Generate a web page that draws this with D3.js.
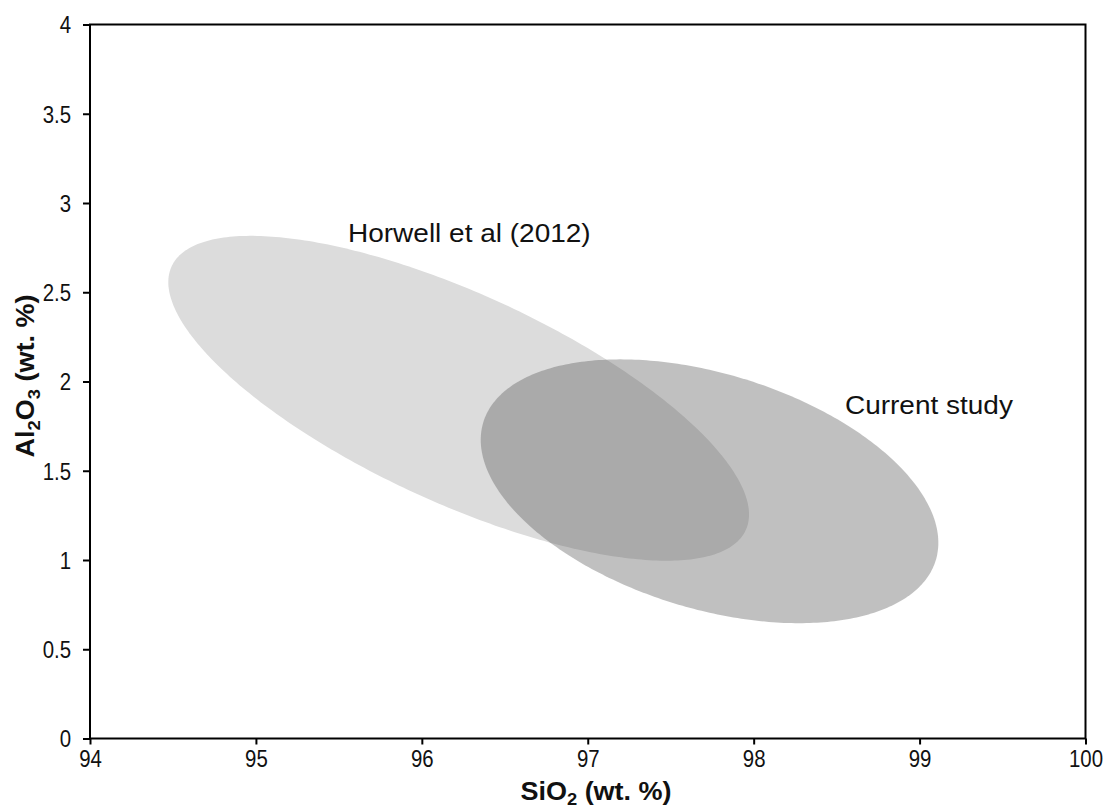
<!DOCTYPE html>
<html>
<head>
<meta charset="utf-8">
<script src="https://cdn.jsdelivr.net/npm/d3@7"></script>
<style>
  html, body { margin: 0; padding: 0; background: #fff; }
  svg { display: block; font-family: "Liberation Sans", Arial, sans-serif; }
</style>
</head>
<body>
<svg id="chart" width="1106" height="809"></svg>
<script>
// ---- data ----
const xTickValues = [94, 95, 96, 97, 98, 99, 100];
const xTickLabels = ["94", "95", "96", "97", "98", "99", "100"];
const yTickValues = [0, 0.5, 1, 1.5, 2, 2.5, 3, 3.5, 4];
const yTickLabels = ["0", "0.5", "1", "1.5", "2", "2.5", "3", "3.5", "4"];

const groupNames = ["Horwell et al (2012)", "Current study"];
const centerSiO2 = [96.222, 97.734];
const centerAl2O3 = [1.906, 1.385];
const halfRangeSiO2 = [1.750, 1.379];
const halfRangeAl2O3 = [0.910, 0.739];
const correlation = [-0.715, -0.39];
const labelSiO2 = [95.555, 98.55];
const labelAl2O3 = [2.78, 1.818];

// ---- layout ----
const svg = d3.select("#chart");
const mLeft = 90, mRight = 1085.5, mTop = 24.5, mBottom = 738.5;
const x = d3.scaleLinear().domain([94, 100]).range([mLeft, mRight]);
const y = d3.scaleLinear().domain([0, 4]).range([mBottom, mTop]);

// ellipses
const fills = ["#dcdcdc", "rgb(85,85,85)"];
const opac = [1, 0.371];
const line = d3.line().x(d => x(d[0])).y(d => y(d[1])).curve(d3.curveLinearClosed);
const steps = d3.range(0, 360, 1).map(d => d * Math.PI / 180);
groupNames.forEach((name, i) => {
  const r = correlation[i];
  const pts = steps.map(t => [
    centerSiO2[i] + halfRangeSiO2[i] * Math.cos(t),
    centerAl2O3[i] + halfRangeAl2O3[i] * (r * Math.cos(t) + Math.sqrt(1 - r * r) * Math.sin(t))
  ]);
  svg.append("path")
    .attr("d", line(pts))
    .attr("fill", fills[i])
    .attr("fill-opacity", opac[i])
    .attr("stroke", "none");
});

// group labels
groupNames.forEach((name, i) => {
  svg.append("g")
    .attr("transform", `translate(${x(labelSiO2[i])},${y(labelAl2O3[i])}) scale(1.12,1)`)
    .append("text")
    .attr("font-size", 25)
    .attr("fill", "#111")
    .text(name);
});

// axes
const xAxis = d3.axisBottom(x).tickValues(xTickValues)
  .tickFormat((d, i) => xTickLabels[i]).tickSize(6).tickSizeOuter(0);
const gx = svg.append("g").attr("transform", `translate(0,${mBottom})`).call(xAxis);
gx.select(".domain").remove();
gx.selectAll(".tick line").attr("stroke", "#000").attr("stroke-width", 2);
gx.selectAll(".tick text")
  .attr("font-size", 24).attr("fill", "#111")
  .attr("font-family", "'Liberation Sans', Arial, sans-serif")
  .attr("y", 28.5).attr("dy", 0)
  .attr("transform", "scale(0.85,1)");

const yAxis = d3.axisLeft(y).tickValues(yTickValues)
  .tickFormat((d, i) => yTickLabels[i]).tickSize(7).tickSizeOuter(0);
const gy = svg.append("g").attr("transform", `translate(${mLeft},0)`).call(yAxis);
gy.select(".domain").remove();
gy.selectAll(".tick line").attr("stroke", "#000").attr("stroke-width", 2);
gy.selectAll(".tick text")
  .attr("font-size", 24).attr("fill", "#111")
  .attr("font-family", "'Liberation Sans', Arial, sans-serif")
  .attr("x", -19 / 0.85).attr("dy", "0.35em")
  .attr("transform", "scale(0.85,1)");

// frame
svg.append("rect")
  .attr("x", mLeft).attr("y", mTop)
  .attr("width", mRight - mLeft).attr("height", mBottom - mTop)
  .attr("fill", "none").attr("stroke", "#000").attr("stroke-width", 2);

// axis titles
const xt = svg.append("g")
  .attr("transform", `translate(596,800) scale(1.08,1)`)
  .append("text").attr("text-anchor", "middle")
  .attr("font-size", 25).attr("font-weight", "bold").attr("fill", "#111");
xt.append("tspan").text("SiO");
xt.append("tspan").attr("font-size", 17).attr("dy", 5).text("2");
xt.append("tspan").attr("dy", -5).text(" (wt. %)");

const yt = svg.append("g")
  .attr("transform", `translate(34,376) rotate(-90) scale(1.08,1)`)
  .append("text").attr("text-anchor", "middle")
  .attr("font-size", 25).attr("font-weight", "bold").attr("fill", "#111");
yt.append("tspan").text("Al");
yt.append("tspan").attr("font-size", 17).attr("dy", 6).text("2");
yt.append("tspan").attr("dy", -6).text("O");
yt.append("tspan").attr("font-size", 17).attr("dy", 6).text("3");
yt.append("tspan").attr("dy", -6).text(" (wt. %)");
</script>
</body>
</html>
